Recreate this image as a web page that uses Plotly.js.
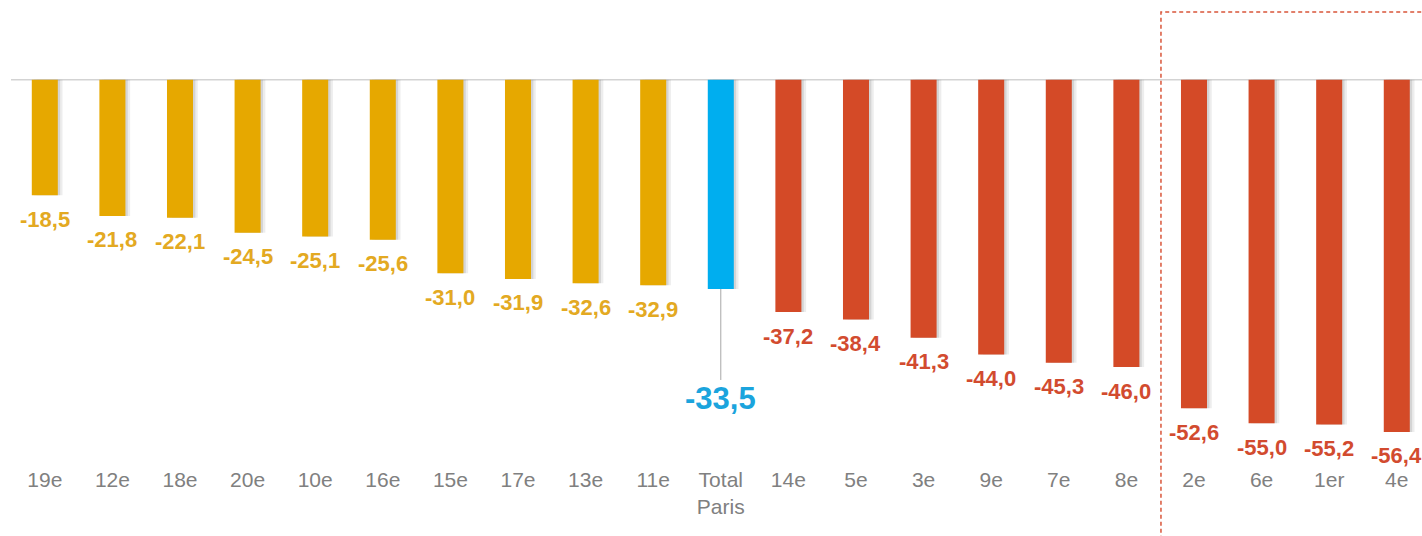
<!DOCTYPE html>
<html>
<head>
<meta charset="utf-8">
<script src="https://cdn.plot.ly/plotly-3.0.1.min.js"></script>
<style>
html,body{margin:0;padding:0;background:#fff;}
#chart{width:1422px;height:536px;}
</style>
</head>
<body>
<div id="chart"></div>
<script>
const categories = ["19e","12e","18e","20e","10e","16e","15e","17e","13e","11e","Total<br>Paris","14e","5e","3e","9e","7e","8e","2e","6e","1er","4e"];
const values = [-18.5,-21.8,-22.1,-24.5,-25.1,-25.6,-31.0,-31.9,-32.6,-32.9,-33.5,-37.2,-38.4,-41.3,-44.0,-45.3,-46.0,-52.6,-55.0,-55.2,-56.4];
const groups = ["low","low","low","low","low","low","low","low","low","low","total","high","high","high","high","high","high","high","high","high","high"];

const barColors = {low:"#E6A800", total:"#00AEEF", high:"#D44A27"};
const labelColors = {low:"#E3A922", total:"#1BA4DD", high:"#D24B2F"};

function fmt(v){ return v.toFixed(1).replace(".", ","); }

const W = 0.385;
const shadow1 = {type:"bar", x:categories, y:values, width:W, offset:-W/2 + 0.07,
  marker:{color:"rgba(0,0,0,0.07)", line:{width:0}}, hoverinfo:"skip", showlegend:false};
const shadow2 = {type:"bar", x:categories, y:values, width:W, offset:-W/2 + 0.035,
  marker:{color:"rgba(0,0,0,0.10)", line:{width:0}}, hoverinfo:"skip", showlegend:false};
const bars = {type:"bar", x:categories, y:values, width:W, offset:-W/2,
  marker:{color:groups.map(g=>barColors[g]), line:{width:0}}, showlegend:false};

const annotations = [];
categories.forEach((c,i)=>{
  if(groups[i]==="total"){
    annotations.push({x:c, y:values[i], xref:"x", yref:"y", text:fmt(values[i]),
      showarrow:true, arrowhead:0, arrowwidth:1, arrowcolor:"#A8A8A8", ax:0, ay:110, standoff:0,
      font:{family:"Liberation Sans, Arial, sans-serif", size:31, color:labelColors.total, weight:"bold"}});
  } else {
    annotations.push({x:c, y:values[i], xref:"x", yref:"y", text:"<b>"+fmt(values[i])+"</b>",
      showarrow:false, yanchor:"middle", xanchor:"center", yshift:-24,
      font:{family:"Liberation Sans, Arial, sans-serif", size:22, color:labelColors[groups[i]]}});
  }
});
annotations[10].text = "<b>"+fmt(values[10])+"</b>";

const layout = {
  width:1422, height:536,
  margin:{l:11, r:0, t:78, b:71},
  paper_bgcolor:"#fff", plot_bgcolor:"#fff",
  barmode:"overlay",
  xaxis:{type:"category", range:[-0.5, 20.373], showgrid:false, zeroline:false, showline:false,
    ticks:"", tickfont:{family:"Liberation Sans, Arial, sans-serif", size:21, color:"#808080"}},
  yaxis:{range:[-61.7, 0.3], showgrid:false, zeroline:false, showticklabels:false, showline:false, ticks:""},
  shapes:[
    {type:"line", xref:"paper", yref:"y", x0:0, x1:1, y0:0, y1:0, line:{color:"#D3D3D3", width:1.5}, layer:"below"},
    {type:"rect", xref:"paper", yref:"paper", x0:0.815, x1:1.02, y0:-0.25, y1:1.1705,
      line:{color:"#D9553A", width:1.5, dash:"4px,3px"}, fillcolor:"rgba(0,0,0,0)"}
  ],
  annotations:annotations,
  font:{family:"Liberation Sans, Arial, sans-serif"}
};

Plotly.newPlot("chart", [shadow1, shadow2, bars], layout, {displayModeBar:false, staticPlot:true});
</script>
</body>
</html>
